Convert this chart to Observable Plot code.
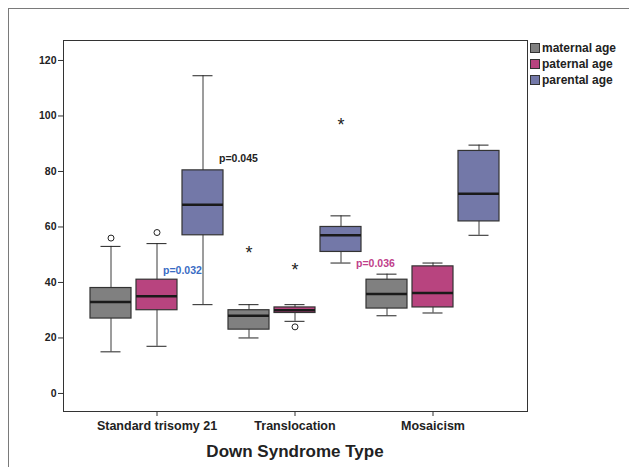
<!DOCTYPE html>
<html>
<head>
<meta charset="utf-8">
<script src="https://cdn.jsdelivr.net/npm/d3@7"></script>
<script src="https://cdn.jsdelivr.net/npm/@observablehq/plot@0.6"></script>
<style>
  html, body { margin: 0; padding: 0; background: #fff; }
  #wrap { position: relative; width: 629px; height: 467px; overflow: hidden; font-family: "Liberation Sans", Arial, sans-serif; font-weight: bold; }
  #border { position: absolute; left: 8px; top: 8px; width: 700px; height: 600px; border: 1px solid #7a7a7a; }
  #chart { position: absolute; left: 0; top: 0; }
  #legend { position: absolute; left: 530px; top: 40px; font-size: 12px; color: #222; }
  #legend .row { display: flex; align-items: center; height: 16px; }
  #legend .sw { width: 10px; height: 10px; border: 1px solid #333; margin-right: 2px; box-sizing: border-box; }
  #title { position: absolute; left: 63px; width: 464px; top: 442px; text-align: center; font-size: 17px; color: #222; }
</style>
</head>
<body>
<div id="wrap">
  <div id="border"></div>
  <div id="chart"></div>
  <div id="legend"></div>
  <div id="title">Down Syndrome Type</div>
</div>
<script>
const categories = ["Standard trisomy 21", "Translocation", "Mosaicism"];
const series = ["maternal age", "paternal age", "parental age"];
const seriesColors = ["#808080", "#b8447f", "#7378a8"];
// order: for each category, maternal, paternal, parental
const lows    = [15, 17, 32,   20, 26, 47,   28, 29, 57];
const q1s     = [27, 30, 57,   23, 29, 51,   30.6, 31, 62];
const medians = [33, 35, 68,   28, 30, 57,   35.8, 36.2, 72];
const q3s     = [38, 41, 80.4, 30, 31, 60,   41, 45.8, 87.4];
const highs   = [53, 54, 114.5, 32, 32, 64,  43, 47, 89.5];

const circleCategory = ["Standard trisomy 21", "Standard trisomy 21", "Translocation"];
const circleSeries   = ["maternal age", "paternal age", "paternal age"];
const circleValues   = [56, 58, 24];

const starCategory = ["Translocation", "Translocation", "Translocation"];
const starSeries   = ["maternal age", "paternal age", "parental age"];
const starValues   = [52, 46, 98.4];

const noteLabels   = ["p=0.032", "p=0.045", "p=0.036"];
const noteCategory = ["Standard trisomy 21", "Standard trisomy 21", "Mosaicism"];
const noteSeries   = ["paternal age", "parental age", "maternal age"];
const noteValues   = [44.3, 84.8, 46.7];
const noteColors   = ["#3a6cc4", "#222222", "#c0408a"];

const yTicks = [0, 20, 40, 60, 80, 100, 120];

const keyOf = (c, s) => c + "|" + s;
const keys = [];
const rows = [];
categories.forEach((c, i) => series.forEach((s, j) => {
  const k = i * 3 + j;
  keys.push(keyOf(c, s));
  rows.push({key: keyOf(c, s), series: s, low: lows[k], q1: q1s[k], median: medians[k], q3: q3s[k], high: highs[k]});
}));
const circles = circleValues.map((v, i) => ({key: keyOf(circleCategory[i], circleSeries[i]), value: v}));
const stars = starValues.map((v, i) => ({key: keyOf(starCategory[i], starSeries[i]), value: v}));
const notes = noteLabels.map((t, i) => ({key: keyOf(noteCategory[i], noteSeries[i]), value: noteValues[i], label: t, color: noteColors[i]}));
const tickKeys = categories.map(c => keyOf(c, series[1]));

const noteDx = [6, 16, -31];

const plot = Plot.plot({
  width: 629,
  height: 467,
  marginLeft: 63,
  marginRight: 102,
  marginTop: 40,
  marginBottom: 56,
  style: {fontFamily: "Liberation Sans, Arial, sans-serif", fontWeight: "bold", color: "#222", background: "transparent"},
  x: {type: "band", domain: keys, paddingInner: 0.1, paddingOuter: 0.54, axis: null},
  y: {domain: [-6.5, 127.2], axis: null},
  color: {domain: series, range: seriesColors},
  marks: [
    Plot.frame({stroke: "#333"}),
    Plot.axisY({ticks: yTicks, tickSize: 5, tickPadding: 2, fontSize: 10.5, label: null, stroke: "#333"}),
    Plot.axisX({ticks: tickKeys, tickFormat: k => k.split("|")[0], tickSize: 5, tickPadding: 5, fontSize: 12.5, label: null, stroke: "#333"}),
    Plot.ruleX(rows, {x: "key", y1: "low", y2: "high", stroke: "#3a3a3a"}),
    Plot.tickY(rows, {x: "key", y: "low", insetLeft: 10.5, insetRight: 10.5, stroke: "#222"}),
    Plot.tickY(rows, {x: "key", y: "high", insetLeft: 10.5, insetRight: 10.5, stroke: "#222"}),
    Plot.barY(rows, {x: "key", y1: "q1", y2: "q3", fill: "series", stroke: "#333", strokeWidth: 1.2}),
    Plot.tickY(rows, {x: "key", y: "median", stroke: "#1a1a1a", strokeWidth: 2.5}),
    Plot.dot(circles, {x: "key", y: "value", r: 3, stroke: "#222", fill: "white", strokeWidth: 1}),
    Plot.text(stars, {x: "key", y: "value", text: () => "*", fontSize: 18, fontWeight: "normal", dy: 4.5, fill: "#222"}),
    ...notes.map((n, i) => Plot.text([n], {x: "key", y: "value", text: "label", fill: "color", textAnchor: "start", dx: noteDx[i], fontSize: 10.5}))
  ]
});
document.getElementById("chart").appendChild(plot);

const legend = document.getElementById("legend");
series.forEach((s, i) => {
  const row = document.createElement("div");
  row.className = "row";
  const sw = document.createElement("div");
  sw.className = "sw";
  sw.style.background = seriesColors[i];
  const label = document.createElement("span");
  label.textContent = s;
  row.appendChild(sw);
  row.appendChild(label);
  legend.appendChild(row);
});
</script>
</body>
</html>
